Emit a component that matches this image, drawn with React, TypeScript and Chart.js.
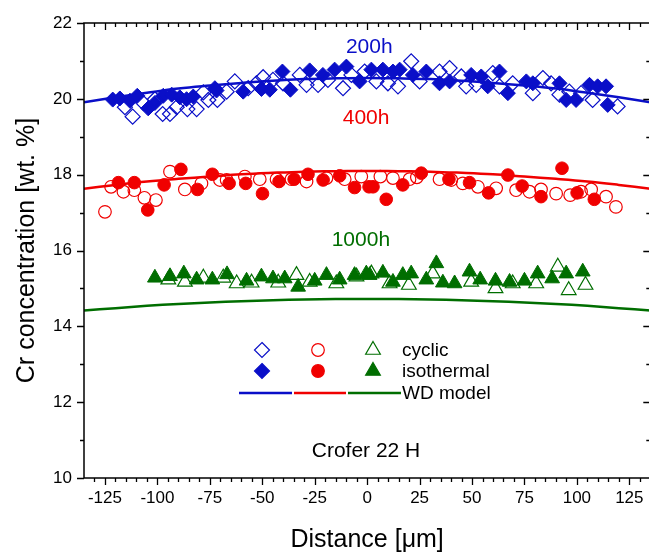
import { useEffect, useRef } from 'react';
import { Chart, registerables } from 'chart.js';

Chart.register(...registerables);

const FONT = "'Liberation Sans', Arial, Helvetica, sans-serif";
const BLUE = '#0a0fc8';
const RED = '#f00000';
const GREEN = '#006e00';

// Axis ticks
const xTickValues = [-125, -100, -75, -50, -25, 0, 25, 50, 75, 100, 125];
const yTickValues = [10, 12, 14, 16, 18, 20, 22];

// WD model profiles
const modelX = [-135, -120, -105, -90, -75, -60, -45, -30, -15, 0, 15, 30, 45, 60, 75, 90, 105, 120, 135];
const model200h = [19.91, 20.04, 20.16, 20.27, 20.35, 20.42, 20.48, 20.52, 20.54, 20.55, 20.54, 20.52, 20.48, 20.42, 20.35, 20.27, 20.16, 20.04, 19.91];
const model400h = [17.63, 17.73, 17.82, 17.89, 17.95, 18.01, 18.05, 18.08, 18.09, 18.1, 18.09, 18.08, 18.05, 18.01, 17.95, 17.89, 17.82, 17.73, 17.63];
const model1000h = [14.42, 14.48, 14.54, 14.59, 14.63, 14.66, 14.69, 14.71, 14.72, 14.72, 14.72, 14.71, 14.69, 14.66, 14.63, 14.59, 14.54, 14.48, 14.42];

// 200 h measurements [distance, Cr]
const cyclic200h: [number, number][] = [
  [-115.5, 19.78], [-111.8, 19.53], [-106.7, 19.89], [-101.2, 19.99], [-97.5, 19.6], [-94, 19.6],
  [-90.8, 19.78], [-85.7, 19.73], [-81.3, 19.73], [-78.1, 20.17], [-75.7, 19.97], [-71.4, 19.97],
  [-67, 20.19], [-63.1, 20.46], [-56.7, 20.28], [-52.8, 20.41], [-49.6, 20.57], [-44.9, 20.5],
  [-40.1, 20.41], [-32.1, 20.63], [-28.9, 20.37], [-23.4, 20.37], [-18.7, 20.5], [-11.5, 20.28],
  [-7.5, 20.63], [-1.2, 20.72], [4.4, 20.46], [9.9, 20.41], [14.7, 20.33], [21, 20.99],
  [25, 20.46], [34.5, 20.72], [39.3, 20.81], [44.9, 20.59], [47.2, 20.33], [52, 20.37],
  [59.9, 20.68], [63.1, 20.33], [69.4, 20.41], [79, 20.15], [83.8, 20.55], [87.7, 20.41],
  [91.7, 20.11], [96.4, 20.19], [102, 20.15], [107.5, 19.97], [119.4, 19.8],
];
const isothermal200h: [number, number][] = [
  [-121.3, 19.98], [-117.9, 20.01], [-113.1, 19.95], [-109.6, 20.08], [-104.4, 19.75], [-101.2, 19.89],
  [-97.2, 20.08], [-93.2, 20.11], [-89.3, 20.04], [-86.1, 19.99], [-82.9, 20.06], [-72.6, 20.28],
  [-71.8, 20.22], [-59.1, 20.19], [-50.4, 20.26], [-46.4, 20.24], [-40.4, 20.72], [-36.6, 20.24],
  [-27.4, 20.75], [-21.1, 20.63], [-15.5, 20.77], [-9.9, 20.85], [-3.6, 20.46], [2, 20.77],
  [7.5, 20.77], [12.3, 20.72], [15.5, 20.77], [21.8, 20.63], [28.2, 20.72], [34.5, 20.41],
  [39.3, 20.46], [49.6, 20.63], [54.4, 20.59], [57.5, 20.33], [63.1, 20.72], [67.1, 20.15],
  [75.9, 20.46], [79, 20.41], [91.7, 20.41], [94.9, 19.97], [99.6, 19.97], [106, 20.37],
  [109.9, 20.33], [113.9, 20.33], [114.7, 19.84],
];

// 400 h measurements
const cyclic400h: [number, number][] = [
  [-125, 17.02], [-122.1, 17.68], [-116.2, 17.55], [-111, 17.59], [-106.2, 17.39], [-100.7, 17.33],
  [-94, 18.08], [-86.9, 17.61], [-79, 17.77], [-70.2, 17.86], [-67, 17.86], [-58.3, 17.95],
  [-51.2, 17.88], [-43.2, 17.88], [-36.1, 17.88], [-28.9, 17.82], [-19.4, 17.91], [-10.7, 17.88],
  [-2.8, 17.95], [6.3, 17.95], [12.3, 17.91], [20.2, 17.88], [23.7, 17.93], [34.5, 17.88],
  [40.1, 17.86], [45.6, 17.77], [52.8, 17.68], [61.5, 17.64], [71, 17.59], [77.4, 17.55],
  [82.9, 17.61], [90.1, 17.5], [96.8, 17.46], [102, 17.55], [106.8, 17.61], [113.9, 17.42],
  [118.6, 17.15],
];
const isothermal400h: [number, number][] = [
  [-118.6, 17.79], [-111, 17.79], [-104.6, 17.07], [-96.8, 17.73], [-88.8, 18.14], [-80.9, 17.61],
  [-73.8, 18.01], [-65.8, 17.77], [-57.9, 17.77], [-49.9, 17.5], [-42, 17.82], [-34.8, 17.88],
  [-28.2, 18.01], [-21, 17.86], [-13.1, 17.97], [-6, 17.66], [0.9, 17.68], [2.8, 17.68],
  [9.1, 17.35], [17, 17.73], [25.8, 18.04], [39, 17.88], [48.8, 17.79], [57.9, 17.52],
  [67.1, 17.99], [73.9, 17.7], [82.9, 17.42], [92.9, 18.17], [100.1, 17.52], [108.3, 17.35],
];

// 1000 h measurements
const cyclic1000h: [number, number][] = [
  [-94.8, 15.23], [-86.9, 15.17], [-78.1, 15.28], [-68.6, 15.28], [-62.2, 15.13], [-55.1, 15.15],
  [-42.4, 15.15], [-33.7, 15.35], [-27.4, 15.17], [-14.7, 15.13], [-5.1, 15.31], [2, 15.39],
  [10.7, 15.13], [19.9, 15.09], [31.3, 15.39], [49.6, 15.17], [61.2, 15.0], [69.4, 15.13],
  [80.6, 15.13], [90.9, 15.57], [96.1, 14.95], [104.1, 15.09],
];
const isothermal1000h: [number, number][] = [
  [-101.2, 15.28], [-94, 15.32], [-87.4, 15.39], [-81.3, 15.23], [-73.8, 15.23], [-66.8, 15.37],
  [-57.5, 15.2], [-50.4, 15.31], [-44.9, 15.26], [-39.3, 15.26], [-32.9, 15.04], [-25, 15.2],
  [-19.4, 15.35], [-13.1, 15.23], [-6, 15.35], [-0.4, 15.39], [1.2, 15.35], [7.5, 15.41],
  [12.3, 15.17], [17, 15.35], [21, 15.39], [28.2, 15.23], [33, 15.66], [36.1, 15.15],
  [41.7, 15.13], [48.8, 15.44], [53.9, 15.23], [61.2, 15.2], [67.9, 15.17], [75, 15.2],
  [81.3, 15.39], [88.2, 15.26], [94.9, 15.39], [102.8, 15.44],
];

const pts = (arr: [number, number][]) => arr.map(([x, y]) => ({ x, y }));
const curve = (ys: number[]) => modelX.map((x, i) => ({ x, y: ys[i] }));

function shapePath(ctx: CanvasRenderingContext2D, shape: string, x: number, y: number, r: number) {
  ctx.beginPath();
  if (shape === 'diamond') {
    ctx.moveTo(x, y - r);
    ctx.lineTo(x + r, y);
    ctx.lineTo(x, y + r);
    ctx.lineTo(x - r, y);
    ctx.closePath();
  } else if (shape === 'circle') {
    ctx.arc(x, y, r, 0, Math.PI * 2);
  } else {
    ctx.moveTo(x, y - r);
    ctx.lineTo(x + r * Math.sin((2 * Math.PI) / 3), y - r * Math.cos((2 * Math.PI) / 3));
    ctx.lineTo(x + r * Math.sin((4 * Math.PI) / 3), y - r * Math.cos((4 * Math.PI) / 3));
    ctx.closePath();
  }
}

const framePlugin = {
  id: 'frameAndNotes',
  afterDatasetsDraw(chart: any) {
    const { ctx, chartArea: a } = chart;
    const xs = chart.scales.x;
    const ys = chart.scales.y;
    ctx.save();
    ctx.strokeStyle = '#000';
    ctx.lineWidth = 1.5;
    ctx.strokeRect(a.left, a.top, a.right - a.left, a.bottom - a.top);

    // x ticks: outward at the bottom, inward at the top
    ctx.lineWidth = 1.3;
    ctx.beginPath();
    for (let v = -130; v <= 130; v += 5) {
      const px = Math.round(xs.getPixelForValue(v)) + 0.5;
      const len = v % 25 === 0 ? 7 : 4;
      ctx.moveTo(px, a.bottom);
      ctx.lineTo(px, a.bottom + len);
      ctx.moveTo(px, a.top);
      ctx.lineTo(px, a.top + len);
    }
    // y ticks: outward on the left, inward on the right
    for (let v = 11; v <= 21; v += 1) {
      const py = Math.round(ys.getPixelForValue(v)) + 0.5;
      const len = v % 2 === 0 ? 7 : 4;
      ctx.moveTo(a.left, py);
      ctx.lineTo(a.left - len, py);
      ctx.moveTo(a.right, py);
      ctx.lineTo(a.right - len, py);
    }
    for (const v of [10, 22]) {
      const py = Math.round(ys.getPixelForValue(v)) + 0.5;
      ctx.moveTo(a.left, py);
      ctx.lineTo(a.left - 7, py);
    }
    ctx.stroke();

    // series labels
    ctx.textAlign = 'center';
    ctx.textBaseline = 'middle';
    ctx.font = `21px ${FONT}`;
    ctx.fillStyle = BLUE;
    ctx.fillText('200h', xs.getPixelForValue(1), ys.getPixelForValue(21.35));
    ctx.fillStyle = RED;
    ctx.fillText('400h', xs.getPixelForValue(-0.5), ys.getPixelForValue(19.5));
    ctx.fillStyle = GREEN;
    ctx.fillText('1000h', xs.getPixelForValue(-3), ys.getPixelForValue(16.27));

    // legend
    const cols = [
      { c: BLUE, s: 'diamond', r: 7.5, x: 262 },
      { c: RED, s: 'circle', r: 6.3, x: 318 },
      { c: GREEN, s: 'triangle', r: 8.5, x: 373 },
    ];
    const rowOpen = 350;
    const rowFilled = 371;
    const rowLine = 393;
    for (const col of cols) {
      ctx.strokeStyle = col.c;
      ctx.fillStyle = col.c;
      ctx.lineWidth = 1.2;
      shapePath(ctx, col.s, col.x, rowOpen, col.r);
      ctx.stroke();
      shapePath(ctx, col.s, col.x, rowFilled, col.r);
      ctx.fill();
      ctx.stroke();
    }
    ctx.lineWidth = 2.5;
    const segs = [
      { c: BLUE, x0: 239, x1: 292 },
      { c: RED, x0: 294, x1: 346 },
      { c: GREEN, x0: 348, x1: 401 },
    ];
    for (const s of segs) {
      ctx.strokeStyle = s.c;
      ctx.beginPath();
      ctx.moveTo(s.x0, rowLine);
      ctx.lineTo(s.x1, rowLine);
      ctx.stroke();
    }
    ctx.fillStyle = '#000';
    ctx.textAlign = 'left';
    ctx.font = `19px ${FONT}`;
    ctx.fillText('cyclic', 402, rowOpen + 1);
    ctx.fillText('isothermal', 402, rowFilled + 1);
    ctx.fillText('WD model', 402, rowLine + 1);

    ctx.textAlign = 'center';
    ctx.font = `21px ${FONT}`;
    ctx.fillText('Crofer 22 H', 366, 451);
    ctx.restore();
  },
};

export default function App() {
  const canvasRef = useRef<HTMLCanvasElement | null>(null);

  useEffect(() => {
    const canvas = canvasRef.current;
    if (!canvas) return;
    const open = (color: string, style: string, r: number, data: [number, number][]) => ({
      type: 'scatter' as const,
      data: pts(data),
      pointStyle: style,
      pointRadius: r,
      pointBackgroundColor: 'rgba(255,255,255,0)',
      pointBorderColor: color,
      pointBorderWidth: 1.2,
      showLine: false,
    });
    const filled = (color: string, style: string, r: number, data: [number, number][]) => ({
      type: 'scatter' as const,
      data: pts(data),
      pointStyle: style,
      pointRadius: r,
      pointBackgroundColor: color,
      pointBorderColor: color,
      pointBorderWidth: 1,
      showLine: false,
    });
    const line = (color: string, ys: number[]) => ({
      type: 'line' as const,
      data: curve(ys),
      borderColor: color,
      borderWidth: 2.5,
      pointRadius: 0,
      tension: 0.4,
      fill: false,
    });

    const chart = new Chart(canvas, {
      type: 'scatter',
      data: {
        datasets: [
          open(BLUE, 'rectRot', 7.5, cyclic200h),
          filled(BLUE, 'rectRot', 7.5, isothermal200h),
          open(RED, 'circle', 6.3, cyclic400h),
          filled(RED, 'circle', 6.3, isothermal400h),
          open(GREEN, 'triangle', 8.5, cyclic1000h),
          filled(GREEN, 'triangle', 8.5, isothermal1000h),
          line(BLUE, model200h),
          line(RED, model400h),
          line(GREEN, model1000h),
        ] as any,
      },
      options: {
        responsive: false,
        maintainAspectRatio: false,
        animation: false,
        devicePixelRatio: 1,
        layout: { padding: { left: 0, top: 23, right: 9, bottom: 0 } },
        plugins: { legend: { display: false }, tooltip: { enabled: false } },
        scales: {
          x: {
            type: 'linear',
            min: -135,
            max: 135,
            grid: { display: false, drawTicks: false },
            border: { display: false },
            afterBuildTicks: (s: any) => {
              s.ticks = xTickValues.map((v) => ({ value: v }));
            },
            afterFit: (s: any) => {
              s.height = 75;
            },
            ticks: {
              color: '#000',
              font: { family: FONT, size: 17 },
              padding: 10,
              maxRotation: 0,
              autoSkip: false,
              callback: (v: any) => String(v),
            },
            title: {
              display: true,
              text: 'Distance [μm]',
              color: '#000',
              font: { family: FONT, size: 25, lineHeight: 1.0 },
              padding: { top: 0, bottom: 0 },
            },
          },
          y: {
            type: 'linear',
            min: 10,
            max: 22,
            grid: { display: false, drawTicks: false },
            border: { display: false },
            afterBuildTicks: (s: any) => {
              s.ticks = yTickValues.map((v) => ({ value: v }));
            },
            afterFit: (s: any) => {
              s.width = 84;
            },
            ticks: {
              color: '#000',
              font: { family: FONT, size: 17 },
              padding: 12,
              autoSkip: false,
              callback: (v: any) => String(v),
            },
            title: {
              display: true,
              text: 'Cr concentration [wt. %]',
              color: '#000',
              font: { family: FONT, size: 25, lineHeight: 1.0 },
              padding: { top: 15, bottom: 0 },
            },
          },
        },
      },
      plugins: [framePlugin],
    });
    return () => chart.destroy();
  }, []);

  return (
    <div
      style={{
        position: 'fixed',
        left: 0,
        top: 0,
        width: 649,
        height: 553,
        overflow: 'hidden',
        background: '#fff',
      }}
    >
      <canvas ref={canvasRef} width={660} height={553} style={{ width: 660, height: 553, display: 'block' }} />
    </div>
  );
}
